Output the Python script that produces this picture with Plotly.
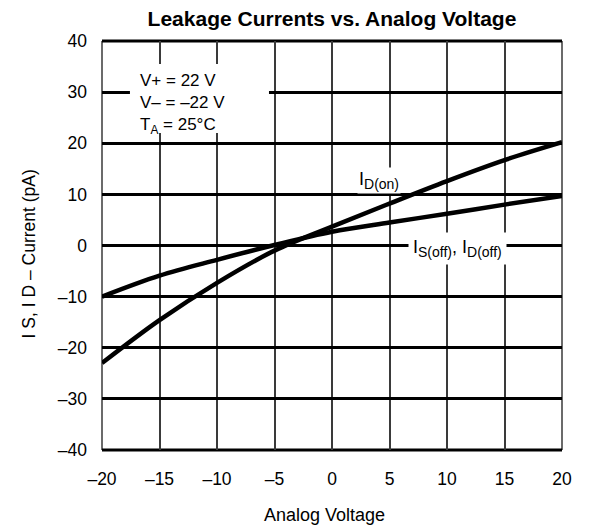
import plotly.graph_objects as go

voltage = [-20, -15, -10, -5, 0, 5, 10, 15, 20]
id_on = [-23, -14.6, -7.3, -1, 3.7, 8.2, 12.6, 16.7, 20.2]
is_off = [-10, -5.9, -2.8, 0.1, 2.7, 4.5, 6.2, 8, 9.7]

x_ticks = [-20, -15, -10, -5, 0, 5, 10, 15, 20]
x_labels = ["–20", "–15", "–10", "–5", "0", "5", "10", "15", "20"]
y_ticks = [-40, -30, -20, -10, 0, 10, 20, 30, 40]
y_labels = ["–40", "–30", "–20", "–10", "0", "10", "20", "30", "40"]

FONT = "Liberation Sans, Arial, sans-serif"
GRID_V = "#3a3a3a"

fig = go.Figure()
fig.add_trace(go.Scatter(x=voltage, y=id_on, mode="lines",
                         line=dict(color="black", width=4.5, shape="spline", smoothing=1.0),
                         showlegend=False, hoverinfo="skip"))
fig.add_trace(go.Scatter(x=voltage, y=is_off, mode="lines",
                         line=dict(color="black", width=4.5, shape="spline", smoothing=1.0),
                         showlegend=False, hoverinfo="skip"))

fig.update_layout(
    width=589, height=525,
    margin=dict(l=102, r=27, t=41, b=75),
    paper_bgcolor="white", plot_bgcolor="white",
    font=dict(family=FONT, size=18, color="black"),
    title=dict(text="<b>Leakage Currents vs. Analog Voltage</b>", xref="paper", x=0.5,
               xanchor="center", y=1 - 19 / 525, yanchor="middle",
               font=dict(size=21, family=FONT, color="black")),
    xaxis=dict(range=[-20, 20], tickvals=x_ticks, ticktext=x_labels,
               showgrid=True, gridcolor=GRID_V, gridwidth=1.5,
               zeroline=False, showline=False, ticks="", ticklabelstandoff=16,
               tickfont=dict(size=17.5)),
    yaxis=dict(range=[-40, 40], tickvals=y_ticks, ticktext=y_labels,
               showgrid=True, gridcolor="black", gridwidth=2.5,
               zeroline=False, showline=False, ticks="", ticklabelstandoff=14,
               tickfont=dict(size=17.5)),
)

# border lines (left/right thin, top/bottom thick)
fig.add_shape(type="line", xref="paper", yref="paper", x0=0, x1=0, y0=0, y1=1,
              line=dict(color=GRID_V, width=1.5), layer="below")
fig.add_shape(type="line", xref="paper", yref="paper", x0=1, x1=1, y0=0, y1=1,
              line=dict(color=GRID_V, width=1.5), layer="below")
fig.add_shape(type="line", xref="paper", yref="paper", x0=0, x1=1, y0=1, y1=1,
              line=dict(color="black", width=3), layer="below")
fig.add_shape(type="line", xref="paper", yref="paper", x0=0, x1=1, y0=0, y1=0,
              line=dict(color="black", width=3), layer="below")

# white box behind the conditions text
fig.add_shape(type="rect", xref="x", yref="y", x0=-17.57, x1=-5.48, y0=22.0, y1=35.5,
              fillcolor="white", line=dict(width=0), layer="between")

fig.add_annotation(x=-16.87, y=27.7, xref="x", yref="y", xanchor="left", yanchor="middle",
                   align="left", showarrow=False,
                   text="V+ = 22 V<br>V– = –22 V<br>T<sub>A</sub> = 25°C",
                   font=dict(size=17, family=FONT))

SUB = '<sub><span style="font-size:14px">{}</span></sub>'
fig.add_annotation(x=2.17, y=12.8, xref="x", yref="y", xanchor="left", yanchor="middle",
                   showarrow=False, text="I" + SUB.format("D(on)"), bgcolor="white", borderpad=1,
                   font=dict(size=18, family=FONT))
fig.add_annotation(x=6.6, y=-0.5, xref="x", yref="y", xanchor="left", yanchor="middle",
                   showarrow=False, bgcolor="white", borderpad=4,
                   text="I" + SUB.format("S(off)") + ", I" + SUB.format("D(off)"),
                   font=dict(size=18, family=FONT))

# axis titles
fig.add_annotation(x=0.483, y=-0.158, xref="paper", yref="paper", xanchor="center",
                   yanchor="middle", showarrow=False, text="Analog Voltage",
                   font=dict(size=18, family=FONT))
fig.add_annotation(x=-0.158, y=0.479, xref="paper", yref="paper", xanchor="center",
                   yanchor="middle", showarrow=False, textangle=-90,
                   text="I S, I D – Current (pA)", font=dict(size=17.5, family=FONT))

fig.write_html("out.html", config={"displayModeBar": False},
               post_script="document.body.style.margin='0';document.body.style.padding='0';")
